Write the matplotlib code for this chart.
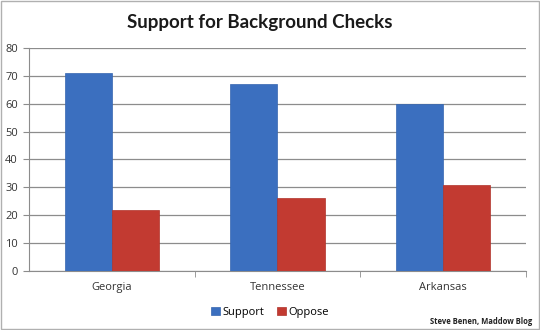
import matplotlib
matplotlib.use("Agg")
import matplotlib.pyplot as plt
import numpy as np
from matplotlib.patches import Rectangle

categories = ["Georgia", "Tennessee", "Arkansas"]
support = [71, 67, 60]
oppose = [22, 26, 31]
yticks = [0, 10, 20, 30, 40, 50, 60, 70, 80]

plt.rcParams['font.family'] = ['Open Sans', 'DejaVu Sans']

fig = plt.figure(figsize=(5.4, 3.3), dpi=100)
ax = fig.add_axes([0.0537, 0.179, 0.9203, 0.6755])

x = np.arange(len(categories))
w = 0.285
ax.bar(x - w/2, support, w, color='#3b6fbf', edgecolor='#3565b0', linewidth=0.5, label='Support', zorder=3)
ax.bar(x + w/2, oppose, w, color='#c23a31', edgecolor='#b0322a', linewidth=0.5, label='Oppose', zorder=3)

ax.set_xlim(-0.5, 2.5)
ax.set_ylim(0, 80)
ax.set_yticks(yticks)
ax.set_yticklabels([str(v) for v in yticks], fontsize=8, color='#333333')
ax.yaxis.grid(True, color='#8c8c8c', linewidth=0.9, zorder=0)
ax.set_xticks(x)
ax.set_xticklabels(categories, fontsize=8, color='#333333')
ax.tick_params(axis='x', length=0, pad=8)
ax.set_xticks([0.5, 1.5, 2.5], minor=True)
ax.tick_params(axis='x', which='minor', length=4, color='#8c8c8c')
ax.tick_params(axis='y', length=4, color='#8c8c8c', pad=4)
for s in ['top', 'right']:
    ax.spines[s].set_visible(False)
ax.spines['left'].set_color('#8c8c8c')
ax.spines['bottom'].set_color('#8c8c8c')

fig.text(0.481, 0.933, "Support for Background Checks", ha='center', va='center',
         fontsize=13.5, fontweight='bold', family=['Lato', 'DejaVu Sans'], color='#1a1a1a')

leg = fig.legend(loc='center', bbox_to_anchor=(0.5, 0.054), ncol=2, frameon=False,
                 fontsize=8, handlelength=0.8, handleheight=0.8, handletextpad=0.2,
                 columnspacing=1.2)

fig.text(0.985, 0.027, "Steve Benen, Maddow Blog", ha='right', va='center',
         fontsize=5.5, fontweight='bold', color='#222222')

fig.patches.append(Rectangle((0.002, 0.003), 0.996, 0.994, transform=fig.transFigure,
                             fill=False, edgecolor='#b0b0b0', linewidth=1))

fig.savefig("out.png", dpi=100)
